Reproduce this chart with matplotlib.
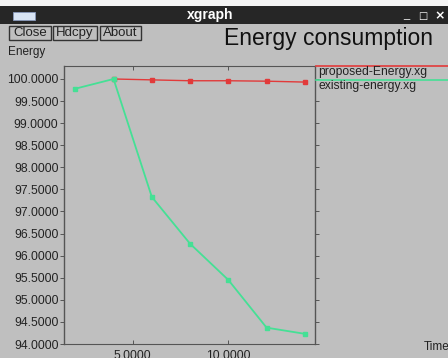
import matplotlib
matplotlib.use("Agg")
import matplotlib.pyplot as plt
from matplotlib.patches import Rectangle
from matplotlib.lines import Line2D

# Data
existing_x = [2, 4, 6, 8, 10, 12, 14]
existing_y = [99.78, 100.0, 97.33, 96.27, 95.45, 94.37, 94.23]
proposed_x = [4, 6, 8, 10, 12, 14]
proposed_y = [100.0, 99.98, 99.96, 99.96, 99.95, 99.93]
x_ticks = [5, 10]
x_tick_labels = ["5.0000", "10.0000"]
y_ticks = [94.0, 94.5, 95.0, 95.5, 96.0, 96.5, 97.0, 97.5, 98.0, 98.5, 99.0, 99.5, 100.0]
y_tick_labels = ["%.4f" % v for v in y_ticks]
series_names = ["proposed-Energy.xg", "existing-energy.xg"]

W, H = 448, 358
BG = "#bfbfbf"
RED = "#e23a3a"
GREEN = "#45e095"
FONT = "Liberation Sans"

fig = plt.figure(figsize=(W / 100, H / 100), dpi=100, facecolor=BG)

def fx(px):
    return px / W

def fy(py):
    return 1 - py / H

# window title bar
fig.patches.append(Rectangle((0, fy(24)), 1, fy(6) - fy(24), transform=fig.transFigure,
                             facecolor="#262626", edgecolor="none", zorder=0))
fig.patches.append(Rectangle((0, fy(6)), 1, 1 - fy(6), transform=fig.transFigure,
                             facecolor="#f4f4f4", edgecolor="none", zorder=0))
fig.patches.append(Rectangle((fx(13), fy(20)), fx(22), fy(12) - fy(20), transform=fig.transFigure,
                             facecolor="#d8e4f4", edgecolor="#8899bb", lw=0.6, zorder=1))
fig.text(fx(210), fy(15), "xgraph", color="white", fontsize=10, fontweight="bold",
         family=FONT, ha="center", va="center")
fig.text(fx(406), fy(15), "_", color="white", fontsize=8, family=FONT, ha="center", va="center")
fig.text(fx(423), fy(16), "□", color="white", fontsize=7, family="DejaVu Sans", ha="center", va="center")
fig.text(fx(440), fy(16), "×", color="white", fontsize=9, fontweight="bold", family="DejaVu Sans",
         ha="center", va="center")

# buttons
for label, x0, x1 in [("Close", 9, 51), ("Hdcpy", 53, 97), ("About", 100, 141)]:
    fig.patches.append(Rectangle((fx(x0), fy(40)), fx(x1 - x0), fy(26) - fy(40),
                                 transform=fig.transFigure, facecolor=BG,
                                 edgecolor="#333333", lw=1.0, zorder=1))
    fig.text(fx((x0 + x1) / 2), fy(33), label, fontsize=9.5, family=FONT,
             ha="center", va="center", color="#222222")

fig.text(fx(8), fy(52), "Energy", fontsize=8.5, family=FONT, ha="left", va="center", color="#222222")
fig.text(fx(433), fy(38), "Energy consumption", fontsize=16.5, family=FONT,
         ha="right", va="center", color="#111111")
fig.text(fx(424), fy(347), "Time", fontsize=8.5, family=FONT, ha="left", va="center", color="#222222")

# axes
ax = fig.add_axes([fx(64), fy(344), fx(315 - 64), fy(66) - fy(344)], facecolor=BG)
ax.set_xlim(1.41, 14.53)
ax.set_ylim(94.0, 100.294)

ax.plot(proposed_x, proposed_y, color=RED, lw=1.0, marker="s", ms=2.5, mec=RED, mfc=RED,
        clip_on=False)
ax.plot(existing_x, existing_y, color=GREEN, lw=1.3, marker="s", ms=3, mec=GREEN, mfc=GREEN,
        clip_on=False)

ax.set_yticks(y_ticks)
ax.set_yticklabels(y_tick_labels, fontsize=8.7, family=FONT, color="#222222")
ax.set_xticks(x_ticks)
ax.set_xticklabels(x_tick_labels, fontsize=8.7, family=FONT, color="#222222")
ax.tick_params(axis="y", direction="out", length=3, width=0.6, color="#444444", pad=1,
               right=True)
ax.tick_params(axis="x", direction="in", length=3, width=0.6, color="#444444", pad=4, top=True)
for side in ["left", "right"]:
    ax.spines[side].set_color("#555555")
    ax.spines[side].set_linewidth(1.0)
for side in ["top", "bottom"]:
    ax.spines[side].set_color("#555555")
    ax.spines[side].set_linewidth(0.8)
    ax.spines[side].set_linestyle((0, (1, 1)))

# legend (xgraph-style: line above label, right of plot)
leg_rows = [(66, 72, RED), (80, 86, GREEN)]
for (ly, ty, col), name in zip(leg_rows, series_names):
    fig.lines.append(Line2D([fx(316), 1], [fy(ly), fy(ly)], transform=fig.transFigure,
                            color=col, lw=1.2))
    fig.text(fx(318), fy(ty), name, fontsize=8.7, family=FONT, ha="left", va="center",
             color="#222222")

fig.savefig("out.png", dpi=100, facecolor=BG)
